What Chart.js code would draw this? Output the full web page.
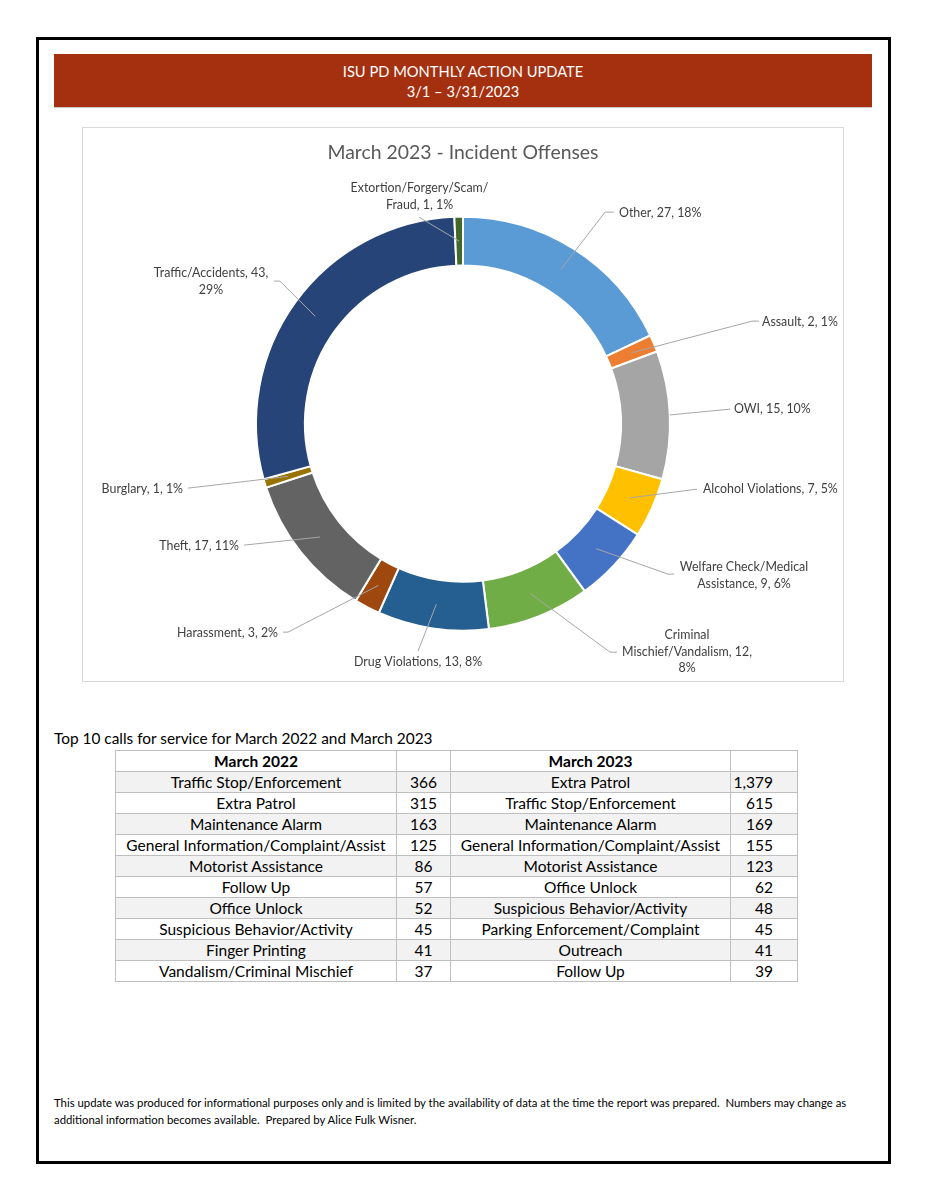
<!DOCTYPE html>
<html><head><meta charset="utf-8">
<script src="https://cdn.jsdelivr.net/npm/chart.js@4.4.0/dist/chart.umd.min.js"></script>
<style>
html,body{margin:0;padding:0;background:#fff;}
body{width:927px;height:1200px;position:relative;overflow:hidden;font-family:Lato,"Open Sans",sans-serif;color:#000;}
#page{position:absolute;left:36px;top:37px;width:855px;height:1127px;border:3px solid #000;box-sizing:border-box;}
#hdr{position:absolute;left:54px;top:54px;width:818px;height:54px;background:#a5300f;border-bottom:1px solid #c8c8c8;color:#fff;text-align:center;font-size:14.7px;line-height:20px;box-sizing:border-box;padding-top:7px;}
#frame{position:absolute;left:82px;top:127px;width:762px;height:555px;border:1px solid #d9d9d9;box-sizing:border-box;}
#wrap{position:absolute;left:82px;top:127px;width:762px;height:555px;}
#ttl{position:absolute;left:54px;top:728px;font-size:15.4px;line-height:20px;white-space:nowrap;}
table{position:absolute;left:115px;top:750px;border-collapse:collapse;table-layout:fixed;width:682px;font-size:15.5px;}
td{border:1px solid #bfbfbf;height:20px;line-height:20px;padding:0;text-align:center;white-space:nowrap;overflow:hidden;}
tr.sh td{background:#f2f2f2;}
td.r{text-align:right;padding-right:24px;}
#foot{position:absolute;left:54px;top:1094px;width:820px;font-size:11.35px;line-height:17px;white-space:pre;}
</style></head>
<body>
<div id="page"></div>
<div id="hdr">ISU PD MONTHLY ACTION UPDATE<br>3/1 – 3/31/2023</div>
<div id="frame"></div>
<div id="wrap"><canvas id="c"></canvas></div>
<div id="ttl">Top 10 calls for service for March 2022 and March 2023</div>
<table id="tbl"><colgroup><col style="width:281px"><col style="width:54px"><col style="width:280px"><col style="width:67px"></colgroup><tbody id="tb"></tbody></table>
<div id="foot">This update was produced for informational purposes only and is limited by the availability of data at the time the report was prepared.  Numbers may change as
additional information becomes available.  Prepared by Alice Fulk Wisner.</div>
<script>
// ---- Data ----
const categories = ["Other","Assault","OWI","Alcohol Violations","Welfare Check/Medical Assistance","Criminal Mischief/Vandalism","Drug Violations","Harassment","Theft","Burglary","Traffic/Accidents","Extortion/Forgery/Scam/ Fraud"];
const counts = [27,2,15,7,9,12,13,3,17,1,43,1];
const percents = [18,1,10,5,6,8,8,2,11,1,29,1];

const calls2022Labels = ["Traffic Stop/Enforcement","Extra Patrol","Maintenance Alarm","General Information/Complaint/Assist","Motorist Assistance","Follow Up","Office Unlock","Suspicious Behavior/Activity","Finger Printing","Vandalism/Criminal Mischief"];
const calls2022Values = [366,315,163,125,86,57,52,45,41,37];
const calls2023Labels = ["Extra Patrol","Traffic Stop/Enforcement","Maintenance Alarm","General Information/Complaint/Assist","Motorist Assistance","Office Unlock","Suspicious Behavior/Activity","Parking Enforcement/Complaint","Outreach","Follow Up"];
const calls2023Values = [1379,615,169,155,123,62,48,45,41,39];

// ---- Styles ----
const sliceColors = ["#5b9bd5","#ed7d31","#a5a5a5","#ffc000","#4472c4","#70ad47","#255e91","#9e480e","#636363","#997300","#264478","#43682b"];
// label layout: text position relative to ring centre, alignment, leader elbow, optional tail, word-break positions
const labelLayout = [
 {tx:156, ty:-210.5, align:'left',  ex:142, ey:-211.5, hx:151},
 {tx:299, ty:-101.5, align:'left',  ex:289, ey:-102.5, hx:296},
 {tx:271, ty:-14.5,  align:'left',  ex:267, ey:-14.5, anchor:'outer'},
 {tx:240, ty:65.5,   align:'left',  ex:234, ey:65.5},
 {tx:281, ty:143.5,  align:'center',ex:205, ey:150.5, hx:211, breaks:[2]},
 {tx:224, ty:211.5,  align:'center',ex:147, ey:228.5, hx:154, breaks:[1,3]},
 {tx:-45, ty:238.5,  align:'center',ex:-45, ey:227.5},
 {tx:-185,ty:209.5,  align:'right', ex:-175,ey:208.5, hx:-180},
 {tx:-224,ty:122.5,  align:'right', ex:-219,ey:121.5},
 {tx:-280,ty:65.5,   align:'right', ex:-275,ey:64.5},
 {tx:-252,ty:-150.5, align:'center',ex:-183,ey:-142.5, hx:-189, breaks:[2]},
 {tx:-43.5,ty:-235.5,align:'center',ex:-44, ey:-206.5, breaks:[1]}
];

// ---- Table ----
const tb = document.getElementById('tb');
let html = '<tr><td style="font-weight:bold">March 2022</td><td></td><td style="font-weight:bold">March 2023</td><td></td></tr>';
for (let i=0;i<calls2022Labels.length;i++){
  html += `<tr class="${i%2===0?'sh':''}"><td>${calls2022Labels[i]}</td><td>${calls2022Values[i].toLocaleString('en-US')}</td><td>${calls2023Labels[i]}</td><td class="r">${calls2023Values[i].toLocaleString('en-US')}</td></tr>`;
}
tb.innerHTML = html;

// ---- Chart ----
const labelFont = '12.4px Lato, "Open Sans", sans-serif';
const leaderPlugin = {
  id:'leaders',
  afterDatasetsDraw(chart){
    const ctx = chart.ctx;
    const meta = chart.getDatasetMeta(0);
    ctx.save();
    meta.data.forEach((arc,i)=>{
      const p = arc.getProps(['x','y','startAngle','endAngle','innerRadius','outerRadius'], true);
      const L = labelLayout[i];
      const mid = (p.startAngle+p.endAngle)/2;
      const r = L.anchor==='outer' ? p.outerRadius : (p.innerRadius+p.outerRadius)/2;
      const ax = p.x+Math.cos(mid)*r, ay = p.y+Math.sin(mid)*r;
      ctx.strokeStyle='#a6a6a6'; ctx.lineWidth=1;
      ctx.beginPath(); ctx.moveTo(ax,ay); ctx.lineTo(p.x+L.ex,p.y+L.ey);
      if (L.hx!==undefined) ctx.lineTo(p.x+L.hx,p.y+L.ey);
      ctx.stroke();
      const text = `${chart.data.labels[i]}, ${chart.data.datasets[0].data[i]}, ${percents[i]}%`;
      const tokens = text.split(' ');
      const lines = [];
      let cur = [];
      tokens.forEach((t,k)=>{
        cur.push(t);
        if (L.breaks && L.breaks.includes(k+1)) { lines.push(cur.join(' ').trim()); cur=[]; }
      });
      if (cur.length) lines.push(cur.join(' '));
      ctx.fillStyle='#404040'; ctx.font=labelFont; ctx.textAlign=L.align; ctx.textBaseline='middle';
      lines.forEach((ln,k)=>ctx.fillText(ln,p.x+L.tx,p.y+L.ty+k*16.5));
    });
    ctx.restore();
  }
};

new Chart(document.getElementById('c'), {
  type:'doughnut',
  data:{ labels:categories, datasets:[{ data:counts, backgroundColor:sliceColors, borderColor:'#ffffff', borderWidth:2 }]},
  options:{
    responsive:true, maintainAspectRatio:false, animation:false,
    radius:207, cutout:158,
    layout:{padding:{left:173,right:173,top:0,bottom:50.5}},
    plugins:{
      legend:{display:false}, tooltip:{enabled:false},
      title:{display:true, text:'March 2023 - Incident Offenses', color:'#595959',
        font:{family:'Lato, "Open Sans", sans-serif', size:19.4, weight:'normal', lineHeight:1.2},
        padding:{top:14, bottom:51.5}}
    }
  },
  plugins:[leaderPlugin]
});
</script>
</body></html>
